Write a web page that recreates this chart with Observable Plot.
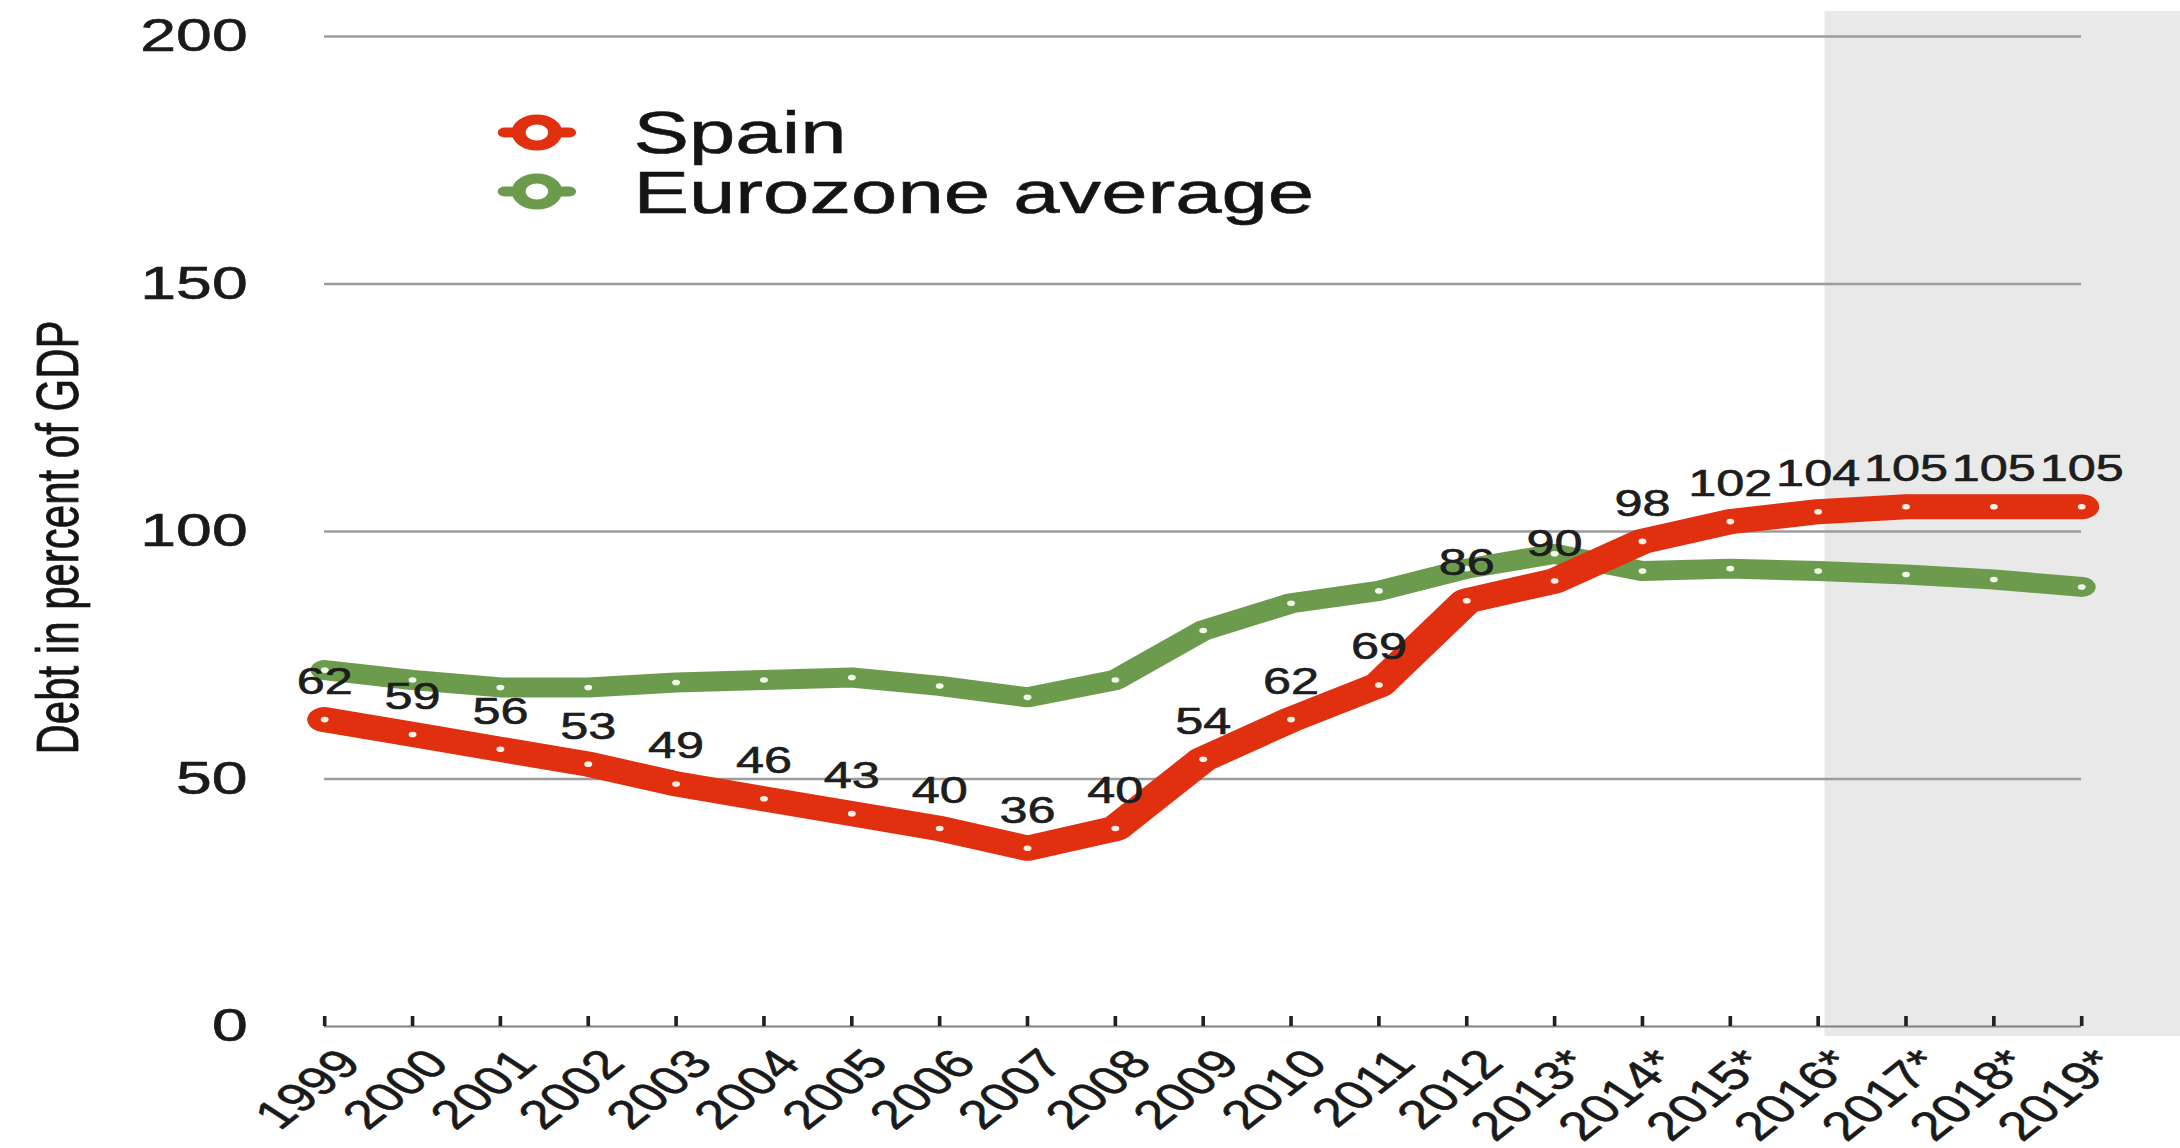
<!DOCTYPE html>
<html>
<head>
<meta charset="utf-8">
<script src="https://cdn.jsdelivr.net/npm/d3@7"></script>
<script src="https://cdn.jsdelivr.net/npm/@observablehq/plot@0.6"></script>
<style>
  html, body { margin: 0; padding: 0; background: #ffffff; overflow: hidden; }
  #chart svg { display: block; }
  #chart svg text { stroke: #1a1a1a; stroke-width: 0.6px; }
</style>
</head>
<body>
<div id="chart"></div>
<script>
// ---- data ----
const years = [1999, 2000, 2001, 2002, 2003, 2004, 2005, 2006, 2007, 2008, 2009, 2010,
               2011, 2012, 2013, 2014, 2015, 2016, 2017, 2018, 2019];
const yearLabels = ["1999", "2000", "2001", "2002", "2003", "2004", "2005", "2006", "2007",
                    "2008", "2009", "2010", "2011", "2012", "2013*", "2014*", "2015*", "2016*",
                    "2017*", "2018*", "2019*"];
const spain = [62, 59, 56, 53, 49, 46, 43, 40, 36, 40, 54, 62, 69, 86, 90, 98, 102, 104, 105, 105, 105];
const eurozone = [72, 70, 68.5, 68.5, 69.5, 70, 70.5, 68.8, 66.5, 70, 80, 85.5, 88, 92.5, 95.5,
                  92, 92.5, 92, 91.3, 90.3, 88.8];
const yTicks = [0, 50, 100, 150, 200];
const seriesNames = ["Spain", "Eurozone average"];
const forecastSpan = [2016, 2019];
const yTitle = "Debt in percent of GDP";

// ---- table built from the arrays ----
const table = years.map((year, i) => ({year, spain: spain[i], eurozone: eurozone[i], label: yearLabels[i]}));
const labelOf = new Map(years.map((y, i) => [y, yearLabels[i]]));

// The reference picture is horizontally stretched; draw on a narrower canvas and stretch it.
const STRETCH = 1.4;
const OUT_W = 2180, OUT_H = 1148;
const W = OUT_W / STRETCH;

const RED = "#e1300f";
const GREEN = "#6d9b4e";
const FONT = "'Liberation Sans', Arial, Helvetica, sans-serif";

const ringSymbol = {
  draw(context, size) {
    const r = Math.sqrt(size / Math.PI);
    const stub = 10;
    context.moveTo(-r - stub, 0); context.lineTo(-r, 0);
    context.moveTo(r + stub, 0); context.lineTo(r, 0);
    context.moveTo(r, 0);
    context.arc(0, 0, r, 0, 2 * Math.PI);
    context.closePath();
  }
};

const chart = Plot.plot({
  width: W,
  height: OUT_H,
  marginLeft: 324 / STRETCH,
  marginRight: (OUT_W - 2081) / STRETCH,
  marginTop: 36,
  marginBottom: 122,
  style: {fontFamily: FONT, fontSize: "36px", color: "#1a1a1a", background: "white"},
  x: {domain: [years[0], years[years.length - 1]], label: null},
  y: {domain: [yTicks[0], yTicks[yTicks.length - 1]], label: null},
  marks: [
    // forecast shading
    Plot.rect([{x1: forecastSpan[0], x2: forecastSpan[1]}], {
      x1: "x1", x2: "x2", y1: yTicks[0], y2: yTicks[yTicks.length - 1],
      fill: "#e9e9e9", insetLeft: 5, insetRight: -(OUT_W - 2081) / STRETCH, insetTop: -25, insetBottom: -10
    }),
    // grid lines
    Plot.ruleY(yTicks.filter(d => d > 0), {
      y: d => d, x1: years[0], x2: years[years.length - 1], stroke: "#9c9c9c", strokeWidth: 2.5
    }),
    // baseline
    Plot.ruleY([0], {x1: years[0], x2: years[years.length - 1], stroke: "#808080", strokeWidth: 2}),
    // inward tick marks
    Plot.ruleX(years, {x: d => d, y1: 0, y2: 0, insetTop: -10, stroke: "#222", strokeWidth: 2.6}),
    // Eurozone
    Plot.line(table, {x: "year", y: "eurozone", stroke: GREEN, strokeWidth: 20,
      strokeLinecap: "round", strokeLinejoin: "round"}),
    Plot.dot(table, {x: "year", y: "eurozone", r: 2.8, fill: "#f2fbe9", stroke: null}),
    // Spain
    Plot.line(table, {x: "year", y: "spain", stroke: RED, strokeWidth: 25,
      strokeLinecap: "round", strokeLinejoin: "round"}),
    Plot.dot(table, {x: "year", y: "spain", r: 2.8, fill: "#fff1e6", stroke: null}),
    // value labels
    Plot.text(table, {x: "year", y: "spain", text: d => String(d.spain), dy: -37,
      fontSize: 36, fill: "#1e1e1e"}),
    // legend
    Plot.dot([seriesNames[0]], {frameAnchor: "top-left", dx: 383 - 324 / STRETCH, dy: 96,
      symbol: ringSymbol, r: 13, stroke: RED, strokeWidth: 10, fill: "white", strokeLinecap: "round"}),
    Plot.dot([seriesNames[1]], {frameAnchor: "top-left", dx: 383 - 324 / STRETCH, dy: 155,
      symbol: ringSymbol, r: 13, stroke: GREEN, strokeWidth: 10, fill: "white", strokeLinecap: "round"}),
    Plot.text([seriesNames[0]], {frameAnchor: "top-left", text: d => d, dx: 452 - 324 / STRETCH, dy: 97,
      fontSize: 59.5, textAnchor: "start", lineAnchor: "middle", fill: "#141414"}),
    Plot.text([seriesNames[1]], {frameAnchor: "top-left", text: d => d, dx: 452 - 324 / STRETCH, dy: 157,
      fontSize: 59.5, textAnchor: "start", lineAnchor: "middle", fill: "#141414"}),
    // y title
    Plot.text([yTitle], {frameAnchor: "left", text: d => d, rotate: -90, dx: 42 - 324 / STRETCH, dy: 6,
      fontSize: 42, textAnchor: "middle", lineAnchor: "middle", fill: "#141414"}),
    // axes
    Plot.axisY({ticks: yTicks, tickSize: 0, tickPadding: 55, fontSize: 46, label: null}),
    Plot.axisX({ticks: years, tickFormat: d => labelOf.get(d), tickSize: 0, tickRotate: -48,
      textAnchor: "end", lineAnchor: "middle", tickPadding: 30, dx: 18, fontSize: 40, label: null})
  ]
});

chart.setAttribute("width", OUT_W);
chart.setAttribute("height", OUT_H);
chart.setAttribute("preserveAspectRatio", "none");
chart.style.width = OUT_W + "px";
chart.style.height = OUT_H + "px";
chart.style.maxWidth = "none";
document.getElementById("chart").appendChild(chart);
</script>
</body>
</html>
